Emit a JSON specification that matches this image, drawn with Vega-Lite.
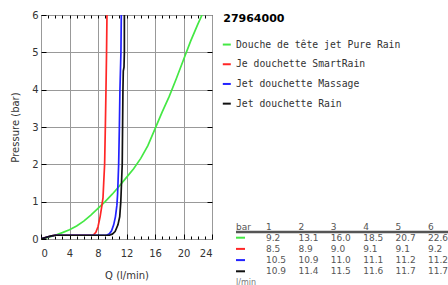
{
  "$schema": "https://vega.github.io/schema/vega-lite/v6.json",
  "background": "white",
  "padding": {"left": 10, "top": 9, "right": 0, "bottom": 0},
  "bounds": "flush",
  "spacing": 10,
  "config": {
    "font": "DejaVu Sans",
    "axis": {"labelColor": "#333", "labelFont": "DejaVu Sans", "labelFontSize": 10, "titleColor": "#333", "titleFont": "DejaVu Sans", "titleFontSize": 10, "titleFontWeight": "normal", "tickColor": "#000", "domainColor": "#000"}
  },
  "datasets": {
    "curves": [
      {"series": "Douche de tête jet Pure Rain", "Q": 0, "P": 0},
      {"series": "Douche de tête jet Pure Rain", "Q": 1, "P": 0.04},
      {"series": "Douche de tête jet Pure Rain", "Q": 2, "P": 0.1},
      {"series": "Douche de tête jet Pure Rain", "Q": 3, "P": 0.17},
      {"series": "Douche de tête jet Pure Rain", "Q": 4, "P": 0.25},
      {"series": "Douche de tête jet Pure Rain", "Q": 5, "P": 0.35},
      {"series": "Douche de tête jet Pure Rain", "Q": 6, "P": 0.48},
      {"series": "Douche de tête jet Pure Rain", "Q": 7, "P": 0.64},
      {"series": "Douche de tête jet Pure Rain", "Q": 8, "P": 0.82},
      {"series": "Douche de tête jet Pure Rain", "Q": 9, "P": 1.0},
      {"series": "Douche de tête jet Pure Rain", "Q": 10, "P": 1.2},
      {"series": "Douche de tête jet Pure Rain", "Q": 11, "P": 1.42},
      {"series": "Douche de tête jet Pure Rain", "Q": 12, "P": 1.65},
      {"series": "Douche de tête jet Pure Rain", "Q": 13, "P": 1.88},
      {"series": "Douche de tête jet Pure Rain", "Q": 14, "P": 2.16},
      {"series": "Douche de tête jet Pure Rain", "Q": 15, "P": 2.5},
      {"series": "Douche de tête jet Pure Rain", "Q": 16, "P": 2.95},
      {"series": "Douche de tête jet Pure Rain", "Q": 17, "P": 3.4},
      {"series": "Douche de tête jet Pure Rain", "Q": 18, "P": 3.82},
      {"series": "Douche de tête jet Pure Rain", "Q": 19, "P": 4.3},
      {"series": "Douche de tête jet Pure Rain", "Q": 20, "P": 4.8},
      {"series": "Douche de tête jet Pure Rain", "Q": 21, "P": 5.3},
      {"series": "Douche de tête jet Pure Rain", "Q": 22, "P": 5.75},
      {"series": "Douche de tête jet Pure Rain", "Q": 22.6, "P": 6.0},
      {"series": "Je douchette SmartRain", "Q": 0, "P": 0},
      {"series": "Je douchette SmartRain", "Q": 0.5, "P": 0.03},
      {"series": "Je douchette SmartRain", "Q": 1, "P": 0.06},
      {"series": "Je douchette SmartRain", "Q": 1.5, "P": 0.085},
      {"series": "Je douchette SmartRain", "Q": 2, "P": 0.1},
      {"series": "Je douchette SmartRain", "Q": 7.3, "P": 0.1},
      {"series": "Je douchette SmartRain", "Q": 7.7, "P": 0.18},
      {"series": "Je douchette SmartRain", "Q": 8.0, "P": 0.33},
      {"series": "Je douchette SmartRain", "Q": 8.3, "P": 0.6},
      {"series": "Je douchette SmartRain", "Q": 8.55, "P": 0.9},
      {"series": "Je douchette SmartRain", "Q": 8.7, "P": 1.1},
      {"series": "Je douchette SmartRain", "Q": 8.8, "P": 1.5},
      {"series": "Je douchette SmartRain", "Q": 8.93, "P": 2.0},
      {"series": "Je douchette SmartRain", "Q": 9.03, "P": 3.0},
      {"series": "Je douchette SmartRain", "Q": 9.12, "P": 4.0},
      {"series": "Je douchette SmartRain", "Q": 9.2, "P": 5.0},
      {"series": "Je douchette SmartRain", "Q": 9.26, "P": 6.0},
      {"series": "Jet douchette Massage", "Q": 0, "P": 0},
      {"series": "Jet douchette Massage", "Q": 0.5, "P": 0.03},
      {"series": "Jet douchette Massage", "Q": 1, "P": 0.06},
      {"series": "Jet douchette Massage", "Q": 1.5, "P": 0.085},
      {"series": "Jet douchette Massage", "Q": 2, "P": 0.1},
      {"series": "Jet douchette Massage", "Q": 9.2, "P": 0.1},
      {"series": "Jet douchette Massage", "Q": 9.6, "P": 0.14},
      {"series": "Jet douchette Massage", "Q": 9.9, "P": 0.22},
      {"series": "Jet douchette Massage", "Q": 10.2, "P": 0.38},
      {"series": "Jet douchette Massage", "Q": 10.45, "P": 0.6},
      {"series": "Jet douchette Massage", "Q": 10.65, "P": 0.9},
      {"series": "Jet douchette Massage", "Q": 10.75, "P": 1.2},
      {"series": "Jet douchette Massage", "Q": 10.9, "P": 2.0},
      {"series": "Jet douchette Massage", "Q": 11.0, "P": 3.0},
      {"series": "Jet douchette Massage", "Q": 11.08, "P": 4.0},
      {"series": "Jet douchette Massage", "Q": 11.22, "P": 5.0},
      {"series": "Jet douchette Massage", "Q": 11.27, "P": 6.0},
      {"series": "Jet douchette Rain", "Q": 0, "P": 0},
      {"series": "Jet douchette Rain", "Q": 0.5, "P": 0.03},
      {"series": "Jet douchette Rain", "Q": 1, "P": 0.06},
      {"series": "Jet douchette Rain", "Q": 1.5, "P": 0.085},
      {"series": "Jet douchette Rain", "Q": 2, "P": 0.1},
      {"series": "Jet douchette Rain", "Q": 9.6, "P": 0.1},
      {"series": "Jet douchette Rain", "Q": 10.0, "P": 0.13},
      {"series": "Jet douchette Rain", "Q": 10.4, "P": 0.2},
      {"series": "Jet douchette Rain", "Q": 10.8, "P": 0.38},
      {"series": "Jet douchette Rain", "Q": 11.05, "P": 0.6},
      {"series": "Jet douchette Rain", "Q": 11.2, "P": 1.0},
      {"series": "Jet douchette Rain", "Q": 11.3, "P": 1.5},
      {"series": "Jet douchette Rain", "Q": 11.4, "P": 2.0},
      {"series": "Jet douchette Rain", "Q": 11.45, "P": 3.0},
      {"series": "Jet douchette Rain", "Q": 11.5, "P": 4.0},
      {"series": "Jet douchette Rain", "Q": 11.55, "P": 4.5},
      {"series": "Jet douchette Rain", "Q": 11.65, "P": 4.6},
      {"series": "Jet douchette Rain", "Q": 11.7, "P": 5.0},
      {"series": "Jet douchette Rain", "Q": 11.7, "P": 6.0}
    ],
    "series": [
      {"series": "Douche de tête jet Pure Rain"},
      {"series": "Je douchette SmartRain"},
      {"series": "Jet douchette Massage"},
      {"series": "Jet douchette Rain"}
    ],
    "table": [
      {"series": "Douche de tête jet Pure Rain", "bar": 1, "Q": 9.2},
      {"series": "Douche de tête jet Pure Rain", "bar": 2, "Q": 13.1},
      {"series": "Douche de tête jet Pure Rain", "bar": 3, "Q": 16.0},
      {"series": "Douche de tête jet Pure Rain", "bar": 4, "Q": 18.5},
      {"series": "Douche de tête jet Pure Rain", "bar": 5, "Q": 20.7},
      {"series": "Douche de tête jet Pure Rain", "bar": 6, "Q": 22.6},
      {"series": "Je douchette SmartRain", "bar": 1, "Q": 8.5},
      {"series": "Je douchette SmartRain", "bar": 2, "Q": 8.9},
      {"series": "Je douchette SmartRain", "bar": 3, "Q": 9.0},
      {"series": "Je douchette SmartRain", "bar": 4, "Q": 9.1},
      {"series": "Je douchette SmartRain", "bar": 5, "Q": 9.1},
      {"series": "Je douchette SmartRain", "bar": 6, "Q": 9.2},
      {"series": "Jet douchette Massage", "bar": 1, "Q": 10.5},
      {"series": "Jet douchette Massage", "bar": 2, "Q": 10.9},
      {"series": "Jet douchette Massage", "bar": 3, "Q": 11.0},
      {"series": "Jet douchette Massage", "bar": 4, "Q": 11.1},
      {"series": "Jet douchette Massage", "bar": 5, "Q": 11.2},
      {"series": "Jet douchette Massage", "bar": 6, "Q": 11.2},
      {"series": "Jet douchette Rain", "bar": 1, "Q": 10.9},
      {"series": "Jet douchette Rain", "bar": 2, "Q": 11.4},
      {"series": "Jet douchette Rain", "bar": 3, "Q": 11.5},
      {"series": "Jet douchette Rain", "bar": 4, "Q": 11.6},
      {"series": "Jet douchette Rain", "bar": 5, "Q": 11.7},
      {"series": "Jet douchette Rain", "bar": 6, "Q": 11.7}
    ],
    "header": [
      {"bar": 1}, {"bar": 2}, {"bar": 3}, {"bar": 4}, {"bar": 5}, {"bar": 6}
    ]
  },
  "hconcat": [
    {
      "width": 171,
      "height": 224,
      "view": {"stroke": "#000", "strokeWidth": 1},
      "data": {"name": "curves"},
      "layer": [
        {
          "mark": {"type": "line", "strokeWidth": 1.7, "clip": true},
          "encoding": {
            "x": {"field": "Q", "type": "quantitative", "scale": {"domain": [0, 24], "nice": false},
              "axis": {"values": [0, 4, 8, 12, 16, 20, 24], "grid": true, "gridColor": "#999", "gridOpacity": 1, "tickSize": -5, "domain": false, "labelPadding": 14, "title": "Q (l/min)", "titlePadding": 12}},
            "y": {"field": "P", "type": "quantitative", "scale": {"domain": [0, 6], "nice": false},
              "axis": {"values": [0, 1, 2, 3, 4, 5, 6], "grid": true, "gridColor": "#999", "gridOpacity": 1, "tickSize": -5, "domain": false, "labelPadding": 8, "title": "Pressure (bar)", "titlePadding": 11}},
            "color": {"field": "series", "type": "nominal",
              "scale": {"domain": ["Douche de tête jet Pure Rain", "Je douchette SmartRain", "Jet douchette Massage", "Jet douchette Rain"], "range": ["#44e844", "#ff2626", "#2222ff", "#111111"]},
              "legend": null}
          }
        },
        {
          "mark": {"type": "line", "strokeOpacity": 0},
          "encoding": {
            "x": {"field": "Q", "type": "quantitative",
              "axis": {"orient": "top", "values": [1,2,3,4,5,6,7,8,9,10,11,12,13,14,15,16,17,18,19,20,21,22,23], "tickSize": -3, "labels": false, "domain": false, "grid": false, "title": null}},
            "y": {"field": "P", "type": "quantitative",
              "axis": {"orient": "right", "values": [1, 2, 3, 4, 5], "tickSize": -5, "labels": false, "domain": false, "grid": false, "title": null}}
          }
        },
        {
          "mark": {"type": "line", "strokeOpacity": 0},
          "encoding": {
            "x": {"field": "Q", "type": "quantitative",
              "axis": {"orient": "bottom", "values": [1,2,3,5,6,7,9,10,11,13,14,15,17,18,19,21,22,23], "tickSize": -3, "labels": false, "domain": false, "grid": false, "title": null}},
            "y": {"field": "P", "type": "quantitative", "axis": null}
          }
        }
      ],
      "resolve": {"axis": {"x": "independent", "y": "independent"}}
    },
    {
      "bounds": "flush",
      "spacing": 106.9,
      "vconcat": [
        {
          "width": 226,
          "height": 98.5,
          "view": {"stroke": null},
          "layer": [
            {
              "data": {"values": [{"label": "27964000"}]},
              "mark": {"type": "text", "align": "left", "baseline": "middle", "fontWeight": "bold", "fontSize": 11, "color": "#000", "dy": -6},
              "encoding": {
                "x": {"datum": -0.32, "type": "quantitative", "scale": {"domain": [-0.358, 6.617], "nice": false, "zero": false}, "axis": null},
                "y": {"field": "label", "type": "nominal", "scale": {"type": "band", "paddingInner": 0, "paddingOuter": 0, "domain": ["27964000", "Douche de tête jet Pure Rain", "Je douchette SmartRain", "Jet douchette Massage", "Jet douchette Rain"]}, "axis": null},
                "text": {"field": "label"}
              }
            },
            {
              "data": {"name": "series"},
              "mark": {"type": "point", "shape": "stroke", "size": 64, "strokeWidth": 2, "opacity": 1},
              "encoding": {
                "x": {"datum": -0.21, "type": "quantitative"},
                "y": {"field": "series", "type": "nominal"},
                "color": {"field": "series", "type": "nominal",
                  "scale": {"domain": ["Douche de tête jet Pure Rain", "Je douchette SmartRain", "Jet douchette Massage", "Jet douchette Rain"], "range": ["#44e844", "#ff2626", "#2222ff", "#111111"]},
                  "legend": null}
              }
            },
            {
              "data": {"name": "series"},
              "mark": {"type": "text", "align": "left", "baseline": "middle", "font": "DejaVu Sans Mono", "fontSize": 9.75, "color": "#333"},
              "encoding": {
                "x": {"datum": 0.074, "type": "quantitative"},
                "y": {"field": "series", "type": "nominal"},
                "text": {"field": "series"}
              }
            }
          ]
        },
        {
          "width": 226,
          "height": 67.2,
          "view": {"stroke": null},
          "layer": [
            {
              "data": {"values": [{"label": "bar"}]},
              "mark": {"type": "rule", "strokeWidth": 2.5, "color": "#555"},
              "encoding": {
                "x": {"datum": 0.074, "type": "quantitative", "scale": {"domain": [-0.358, 6.617], "nice": false, "zero": false}, "axis": null},
                "x2": {"datum": 6.617},
                "y": {"datum": "Douche de tête jet Pure Rain", "type": "nominal", "bandPosition": 0,
                  "scale": {"type": "band", "paddingInner": 0, "paddingOuter": 0, "domain": ["bar", "Douche de tête jet Pure Rain", "Je douchette SmartRain", "Jet douchette Massage", "Jet douchette Rain", "l/min"]}, "axis": null}
              }
            },
            {
              "data": {"values": [{"label": "bar"}]},
              "mark": {"type": "text", "align": "left", "baseline": "middle", "fontSize": 9, "color": "#555"},
              "encoding": {
                "x": {"datum": 0.074, "type": "quantitative"},
                "y": {"field": "label", "type": "nominal"},
                "text": {"field": "label"}
              }
            },
            {
              "data": {"values": [{"label": "l/min"}]},
              "mark": {"type": "text", "align": "left", "baseline": "middle", "fontSize": 8, "color": "#777"},
              "encoding": {
                "x": {"datum": 0.074, "type": "quantitative"},
                "y": {"field": "label", "type": "nominal"},
                "text": {"field": "label"}
              }
            },
            {
              "data": {"name": "header"},
              "mark": {"type": "text", "align": "left", "baseline": "middle", "fontSize": 9, "color": "#555"},
              "encoding": {
                "x": {"field": "bar", "type": "quantitative"},
                "y": {"datum": "bar", "type": "nominal"},
                "text": {"field": "bar", "type": "quantitative"}
              }
            },
            {
              "data": {"name": "series"},
              "mark": {"type": "point", "shape": "stroke", "size": 81, "strokeWidth": 2, "opacity": 1},
              "encoding": {
                "x": {"datum": 0.213, "type": "quantitative"},
                "y": {"field": "series", "type": "nominal"},
                "color": {"field": "series", "type": "nominal",
                  "scale": {"domain": ["Douche de tête jet Pure Rain", "Je douchette SmartRain", "Jet douchette Massage", "Jet douchette Rain"], "range": ["#44e844", "#ff2626", "#2222ff", "#111111"]},
                  "legend": null}
              }
            },
            {
              "data": {"name": "table"},
              "mark": {"type": "text", "align": "left", "baseline": "middle", "fontSize": 9, "color": "#555"},
              "encoding": {
                "x": {"field": "bar", "type": "quantitative"},
                "y": {"field": "series", "type": "nominal"},
                "text": {"field": "Q", "type": "quantitative", "format": ".1f"}
              }
            }
          ]
        }
      ]
    }
  ]
}
